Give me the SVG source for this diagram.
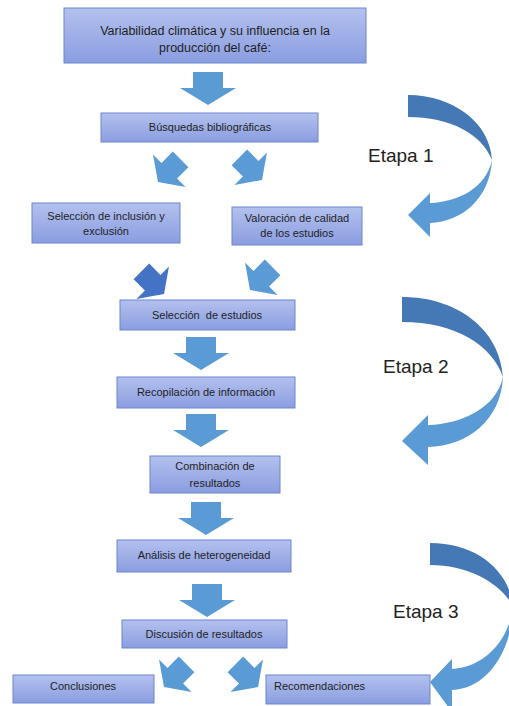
<svg xmlns="http://www.w3.org/2000/svg" xmlns:xlink="http://www.w3.org/1999/xlink" width="509" height="706" viewBox="0 0 509 706">
<defs>
<linearGradient id="bg" x1="0" y1="0" x2="0" y2="1">
<stop offset="0" stop-color="#b3c1ee"/>
<stop offset="1" stop-color="#8a9de0"/>
</linearGradient>
<path id="down" d="M-15,-16 L15,-16 L15,0 L28,0 L0,17 L-28,0 L-15,0 Z"/>
<path id="diag" d="M-11,-15 L11,-15 L11,1 L23,1 L0,17 L-23,1 L-11,1 Z"/>
<style>
.box{fill:url(#bg);stroke:#6b86cf;stroke-width:1}
.t{font-family:"Liberation Sans",Arial,sans-serif;font-size:11px;fill:#1e1e1e;text-anchor:middle;white-space:pre}
.title{font-size:12.5px}
.et{font-family:"Liberation Sans",Arial,sans-serif;font-size:19px;fill:#222}
.ar{fill:#5b9bd5}
.ard{fill:#4472c4}
.cd{fill:#4479b5}
.cl{fill:#5b9bd5}
</style>
</defs>
<rect width="509" height="706" fill="#ffffff"/>

<g id="connectors">
<use href="#down" class="ar" transform="translate(208,88)"/>
<use href="#diag" class="ar" transform="translate(170,170) rotate(45)"/>
<use href="#diag" class="ar" transform="translate(250,168) rotate(-45)"/>
<use href="#diag" class="ard" transform="translate(152,282) rotate(-45)"/>
<use href="#diag" class="ar" transform="translate(262,278) rotate(45)"/>
<use href="#down" class="ar" transform="translate(201,353)"/>
<use href="#down" class="ar" transform="translate(201,430)"/>
<use href="#down" class="ar" transform="translate(206,518)"/>
<use href="#down" class="ar" transform="translate(207,600)"/>
<use href="#diag" class="ar" transform="translate(176,675) rotate(45)"/>
<use href="#diag" class="ar" transform="translate(246,675) rotate(-45)"/>
</g>

<g id="etapa1">
<path class="cd" d="M408,95 C452,95 490,122 492,160 C482,134 450,117 408,117 Z"/>
<path class="cl" d="M492,160 C490,198 462,222 430,223 L430,237 L408,215 L430,193 L430,203 C458,202 486,188 492,160 Z"/>
<text class="et" x="368" y="162">Etapa 1</text>
</g>
<g id="etapa2">
<path class="cd" d="M402,297 C458,297 500,330 503,377 C492,345 455,322 402,322 Z"/>
<path class="cl" d="M503,377 C501,420 468,446 428,447 L428,465 L402,441 L428,415 L428,425 C462,424 496,408 503,377 Z"/>
<text class="et" x="383" y="373">Etapa 2</text>
</g>
<g id="etapa3">
<path class="cd" d="M430,543 C478,543 510,572 513,607 C503,585 470,565 430,565 Z"/>
<path class="cl" d="M513,607 C512,650 488,689 452,690 L452,712 L430,682 L452,659 L452,669 C480,668 508,645 513,607 Z"/>
<text class="et" x="393" y="618">Etapa 3</text>
</g>

<g id="n-titulo">
<rect class="box" x="64" y="8" width="302" height="55"/>
<text class="t title" x="215" y="35">Variabilidad climática y su influencia en la</text>
<text class="t title" x="215" y="52">producción del café:</text>
</g>
<g id="n-busquedas">
<rect class="box" x="101" y="113" width="217" height="29"/>
<text class="t" x="210" y="131">Búsquedas bibliográficas</text>
</g>
<g id="n-seleccion-inclusion">
<rect class="box" x="32" y="203" width="148" height="40"/>
<text class="t" x="106" y="220">Selección de inclusión y</text>
<text class="t" x="106" y="235">exclusión</text>
</g>
<g id="n-valoracion">
<rect class="box" x="232" y="207" width="130" height="38"/>
<text class="t" x="297" y="222">Valoración de calidad</text>
<text class="t" x="297" y="237">de los estudios</text>
</g>
<g id="n-seleccion-estudios">
<rect class="box" x="120" y="300" width="175" height="30"/>
<text class="t" x="207" y="319">Selección  de estudios</text>
</g>
<g id="n-recopilacion">
<rect class="box" x="117" y="377" width="178" height="31"/>
<text class="t" x="206" y="396">Recopilación de información</text>
</g>
<g id="n-combinacion">
<rect class="box" x="150" y="456" width="130" height="37"/>
<text class="t" x="215" y="470">Combinación de</text>
<text class="t" x="215" y="487">resultados</text>
</g>
<g id="n-analisis">
<rect class="box" x="117" y="540" width="174" height="32"/>
<text class="t" x="204" y="559">Análisis de heterogeneidad</text>
</g>
<g id="n-discusion">
<rect class="box" x="122" y="620" width="165" height="28"/>
<text class="t" x="204" y="638">Discusión de resultados</text>
</g>
<g id="n-conclusiones">
<rect class="box" x="13" y="675" width="141" height="28"/>
<text class="t" x="83" y="690">Conclusiones</text>
</g>
<g id="n-recomendaciones">
<rect class="box" x="266" y="675" width="164" height="29"/>
<text class="t" x="274" y="690" style="text-anchor:start">Recomendaciones</text>
</g>
</svg>
